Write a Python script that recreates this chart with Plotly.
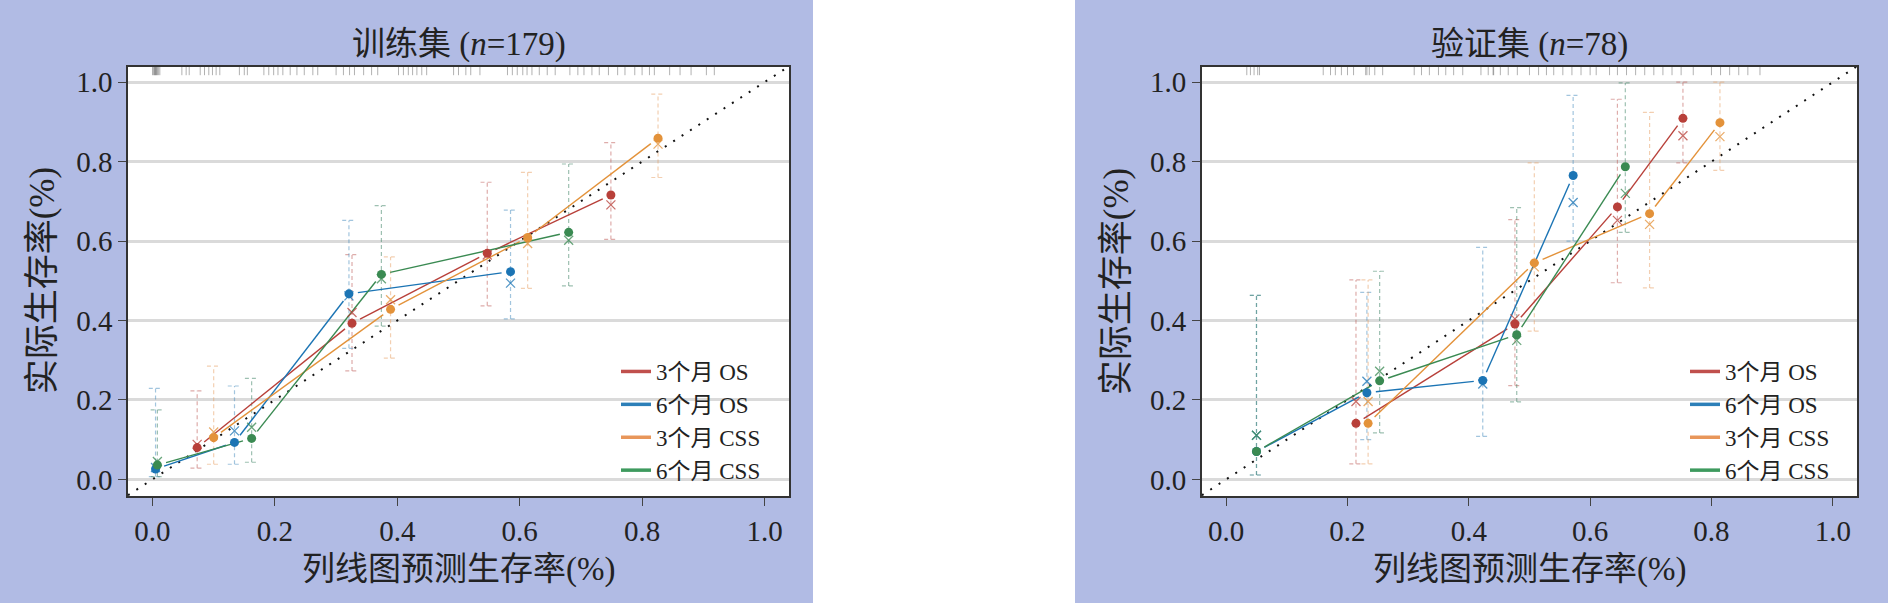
import math
import plotly.graph_objects as go

# ---------------- data ----------------
SERIES = ["3个月 OS", "6个月 OS", "3个月 CSS", "6个月 CSS"]
TICKS = [0.0, 0.2, 0.4, 0.6, 0.8, 1.0]
TICK_LABELS = ["0.0", "0.2", "0.4", "0.6", "0.8", "1.0"]

# training set (n=179): predicted, observed (KM), bias-corrected, CI low, CI high
train_pred_os3 = [0.073, 0.326, 0.547, 0.749]
train_obs_os3 = [0.080, 0.393, 0.569, 0.716]
train_cor_os3 = [0.088, 0.420, 0.565, 0.691]
train_lo_os3 = [0.028, 0.273, 0.437, 0.604]
train_hi_os3 = [0.223, 0.566, 0.748, 0.848]

train_pred_os6 = [0.005, 0.134, 0.321, 0.585]
train_obs_os6 = [0.026, 0.093, 0.467, 0.523]
train_cor_os6 = [0.030, 0.122, 0.462, 0.494]
train_lo_os6 = [0.007, 0.038, 0.330, 0.404]
train_hi_os6 = [0.229, 0.235, 0.652, 0.678]

train_pred_css3 = [0.100, 0.389, 0.613, 0.826]
train_obs_css3 = [0.105, 0.428, 0.609, 0.859]
train_cor_css3 = [0.119, 0.452, 0.594, 0.844]
train_lo_css3 = [0.038, 0.305, 0.481, 0.760]
train_hi_css3 = [0.285, 0.560, 0.773, 0.970]

train_pred_css6 = [0.008, 0.162, 0.374, 0.680]
train_obs_css6 = [0.036, 0.103, 0.516, 0.622]
train_cor_css6 = [0.045, 0.131, 0.505, 0.602]
train_lo_css6 = [0.007, 0.043, 0.386, 0.487]
train_hi_css6 = [0.175, 0.254, 0.689, 0.794]

# validation set (n=78)
val_pred_os3 = [0.214, 0.476, 0.645, 0.753]
val_obs_os3 = [0.141, 0.391, 0.686, 0.909]
val_cor_os3 = [0.196, 0.404, 0.652, 0.865]
val_lo_os3 = [0.039, 0.236, 0.495, 0.797]
val_hi_os3 = [0.502, 0.654, 0.957, 1.000]

val_pred_os6 = [0.050, 0.232, 0.423, 0.572]
val_obs_os6 = [0.070, 0.218, 0.249, 0.765]
val_cor_os6 = [0.111, 0.247, 0.240, 0.697]
val_lo_os6 = [0.011, 0.100, 0.108, 0.600]
val_hi_os6 = [0.463, 0.471, 0.584, 0.967]

val_pred_css3 = [0.234, 0.508, 0.698, 0.814]
val_obs_css3 = [0.141, 0.545, 0.669, 0.898]
val_cor_css3 = [0.196, 0.535, 0.642, 0.863]
val_lo_css3 = [0.039, 0.373, 0.482, 0.778]
val_hi_css3 = [0.502, 0.797, 0.924, 1.000]

val_pred_css6 = [0.050, 0.253, 0.479, 0.658]
val_obs_css6 = [0.070, 0.248, 0.364, 0.787]
val_cor_css6 = [0.111, 0.272, 0.350, 0.720]
val_lo_css6 = [0.011, 0.117, 0.195, 0.622]
val_hi_css6 = [0.463, 0.524, 0.684, 0.998]

# rug of predicted values along the top edge
train_rug = [0.000, 0.002, 0.003, 0.004, 0.005, 0.006, 0.007, 0.008, 0.010, 0.012,
             0.048, 0.055, 0.060, 0.078, 0.085, 0.092, 0.098, 0.104, 0.110,
             0.142, 0.150, 0.155, 0.182, 0.190, 0.198, 0.205, 0.213,
             0.225, 0.236, 0.248, 0.262, 0.270, 0.300, 0.312, 0.322, 0.330,
             0.345, 0.358, 0.368, 0.402, 0.410, 0.418, 0.425, 0.432, 0.440,
             0.448, 0.492, 0.500, 0.512, 0.520, 0.535, 0.580, 0.588, 0.596,
             0.605, 0.612, 0.620, 0.632, 0.645, 0.658, 0.682, 0.695, 0.705,
             0.718, 0.730, 0.745, 0.760, 0.772, 0.788, 0.800, 0.812, 0.820,
             0.845, 0.862, 0.880, 0.905, 0.918]
val_rug = [0.034, 0.040, 0.046, 0.052, 0.055, 0.160, 0.172, 0.180, 0.190, 0.200,
           0.210, 0.230, 0.232, 0.236, 0.245, 0.258, 0.310, 0.322, 0.335, 0.350,
           0.362, 0.375, 0.390, 0.420, 0.432, 0.440, 0.441, 0.452, 0.465, 0.480,
           0.500, 0.515, 0.528, 0.540, 0.555, 0.570, 0.585, 0.600, 0.610,
           0.632, 0.645, 0.660, 0.675, 0.690, 0.705, 0.720, 0.735, 0.750, 0.770,
           0.800, 0.815, 0.830, 0.845, 0.860, 0.880]

# ---------------- style ----------------
W, H = 1888, 603
COLORS = ["#B8403A", "#1B74B4", "#E3923A", "#3A8A52"]
LEG_COLORS = ["#C0504D", "#2C7FB8", "#E8965A", "#3E9A5E"]
BAR_COLORS = ["rgba(190,90,85,0.5)", "rgba(70,140,190,0.5)",
              "rgba(232,160,100,0.5)", "rgba(60,130,100,0.5)"]
X_COLORS = ["rgba(184,64,58,0.75)", "rgba(27,116,180,0.75)",
            "rgba(227,146,58,0.75)", "rgba(58,138,82,0.75)"]
FONT = "Liberation Serif, Noto Sans CJK SC, serif"
XR = [-0.04, 1.04]
YR = [-0.042, 1.039]
YDOM = [0.1774, 0.8894]
XDOMS = [[0.0678, 0.4179], [0.6366, 0.9836]]
BG = "#B1BBE4"

train = [
    (train_pred_os3, train_obs_os3, train_cor_os3, train_lo_os3, train_hi_os3),
    (train_pred_os6, train_obs_os6, train_cor_os6, train_lo_os6, train_hi_os6),
    (train_pred_css3, train_obs_css3, train_cor_css3, train_lo_css3, train_hi_css3),
    (train_pred_css6, train_obs_css6, train_cor_css6, train_lo_css6, train_hi_css6),
]
valid = [
    (val_pred_os3, val_obs_os3, val_cor_os3, val_lo_os3, val_hi_os3),
    (val_pred_os6, val_obs_os6, val_cor_os6, val_lo_os6, val_hi_os6),
    (val_pred_css3, val_obs_css3, val_cor_css3, val_lo_css3, val_hi_css3),
    (val_pred_css6, val_obs_css6, val_cor_css6, val_lo_css6, val_hi_css6),
]

fig = go.Figure()


def gapped(xs, ys, dom, gap=9.0):
    pxx = (dom[1] - dom[0]) * W / (XR[1] - XR[0])
    pxy = (YDOM[1] - YDOM[0]) * H / (YR[1] - YR[0])
    ox, oy = [], []
    for i in range(len(xs) - 1):
        dx, dy = xs[i + 1] - xs[i], ys[i + 1] - ys[i]
        L = math.hypot(dx * pxx, dy * pxy)
        if L <= 2 * gap:
            continue
        f = gap / L
        ox += [xs[i] + dx * f, xs[i + 1] - dx * f, None]
        oy += [ys[i] + dy * f, ys[i + 1] - dy * f, None]
    return ox, oy


def errbars(xs, lo, hi, cap=0.011):
    ox, oy = [], []
    for x, l, h in zip(xs, lo, hi):
        ox += [x, x, None, x - cap, x + cap, None, x - cap, x + cap, None]
        oy += [l, h, None, h, h, None, l, l, None]
    return ox, oy


def add_panel(data, rug, k, dom):
    xa = "x" if k == 1 else "x%d" % k
    ya = "y" if k == 1 else "y%d" % k
    rx, ry = [], []
    for v in rug:
        rx += [v, v, None]
        ry += [1.0176, YR[1], None]
    fig.add_trace(go.Scatter(x=rx, y=ry, mode="lines", xaxis=xa, yaxis=ya,
                             line=dict(color="rgba(60,60,60,0.4)", width=1),
                             showlegend=False, hoverinfo="skip"))
    fig.add_trace(go.Scatter(x=XR, y=XR, mode="lines", xaxis=xa, yaxis=ya,
                             line=dict(color="#111111", width=2, dash="2px,8px"),
                             showlegend=False, hoverinfo="skip"))
    for i, (pred, obs, cor, lo, hi) in enumerate(data):
        ex, ey = errbars(pred, lo, hi)
        fig.add_trace(go.Scatter(x=ex, y=ey, mode="lines", xaxis=xa, yaxis=ya,
                                 line=dict(color=BAR_COLORS[i], width=1.2, dash="4px,3px"),
                                 showlegend=False, hoverinfo="skip"))
    for i, (pred, obs, cor, lo, hi) in enumerate(data):
        gx, gy = gapped(pred, obs, dom)
        fig.add_trace(go.Scatter(x=gx, y=gy, mode="lines", xaxis=xa, yaxis=ya,
                                 line=dict(color=COLORS[i], width=1.4),
                                 showlegend=False, hoverinfo="skip"))
    for i, (pred, obs, cor, lo, hi) in enumerate(data):
        fig.add_trace(go.Scatter(x=pred, y=cor, mode="markers", xaxis=xa, yaxis=ya,
                                 marker=dict(symbol="x-thin", size=9,
                                             line=dict(color=X_COLORS[i], width=1.3)),
                                 showlegend=False, hoverinfo="skip"))
    for i, (pred, obs, cor, lo, hi) in enumerate(data):
        fig.add_trace(go.Scatter(x=pred, y=obs, mode="markers", xaxis=xa, yaxis=ya,
                                 marker=dict(symbol="circle", size=9, color=COLORS[i]),
                                 showlegend=False))
    leg = "legend" if k == 1 else "legend2"
    for i, name in enumerate(SERIES):
        fig.add_trace(go.Scatter(x=[None], y=[None], mode="lines", name=name,
                                 xaxis=xa, yaxis=ya, legend=leg,
                                 line=dict(color=LEG_COLORS[i], width=3.5)))


add_panel(train, train_rug, 1, XDOMS[0])
add_panel(valid, val_rug, 2, XDOMS[1])

axis_common = dict(
    showline=True, mirror=True, linecolor="#333333", linewidth=1.5,
    ticks="outside", ticklen=8, tickwidth=1.2, tickcolor="#444444",
    tickvals=TICKS, ticktext=TICK_LABELS, zeroline=False,
    tickfont=dict(family=FONT, size=29, color="#222222"),
)

shapes = [
    dict(type="rect", xref="paper", yref="paper", x0=0, x1=813 / W, y0=0, y1=1,
         fillcolor=BG, line=dict(width=0), layer="below"),
    dict(type="rect", xref="paper", yref="paper", x0=1075 / W, x1=1, y0=0, y1=1,
         fillcolor=BG, line=dict(width=0), layer="below"),
]
for k in ("", "2"):
    shapes.append(dict(type="rect", xref="x%s domain" % k, yref="y%s domain" % k,
                       x0=0, x1=1, y0=0, y1=1, fillcolor="white",
                       line=dict(width=0), layer="below"))

LEG_FONT = dict(family=FONT, size=23, color="#222222")
layout = dict(
    width=W, height=H,
    margin=dict(l=0, r=0, t=0, b=0),
    paper_bgcolor="white", plot_bgcolor="white",
    font=dict(family=FONT, color="#222222"),
    shapes=shapes,
    legend=dict(x=(662 - 46) / W, y=1 - 350 / H, xanchor="left", yanchor="top",
                bgcolor="rgba(0,0,0,0)", font=LEG_FONT, tracegroupgap=0),
    legend2=dict(x=(1731 - 46) / W, y=1 - 350 / H, xanchor="left", yanchor="top",
                 bgcolor="rgba(0,0,0,0)", font=LEG_FONT, tracegroupgap=0),
)
for k, dom in enumerate(XDOMS, start=1):
    sfx = "" if k == 1 else str(k)
    layout["xaxis" + sfx] = dict(axis_common, domain=dom, range=XR, anchor="y" + sfx,
                                 showgrid=False)
    layout["yaxis" + sfx] = dict(axis_common, domain=YDOM, range=YR, anchor="x" + sfx,
                                 showgrid=True, gridcolor="#DADADA", gridwidth=2.5)
fig.update_layout(**layout)

titles = ["训练集 (<i>n</i>=179)", "验证集 (<i>n</i>=78)"]
for k, dom in enumerate(XDOMS):
    cx = (dom[0] + dom[1]) / 2
    fig.add_annotation(text=titles[k], x=cx, y=1 - 44 / H, xref="paper", yref="paper",
                       showarrow=False, xanchor="center", yanchor="middle",
                       font=dict(family=FONT, size=33, color="#222222"))
    fig.add_annotation(text="列线图预测生存率(%)", x=cx, y=1 - 569 / H, xref="paper",
                       yref="paper", showarrow=False, xanchor="center", yanchor="middle",
                       font=dict(family=FONT, size=33, color="#222222"))
    fig.add_annotation(text="实际生存率(%)", x=dom[0] - 86 / W, y=(YDOM[0] + YDOM[1]) / 2,
                       xref="paper", yref="paper", showarrow=False, textangle=-90,
                       xanchor="center", yanchor="middle",
                       font=dict(family=FONT, size=35, color="#222222"))

fig.write_html("out.html",
               config={"displayModeBar": False},
               post_script="document.body.style.margin='0';"
                           "document.body.style.overflow='hidden';")
